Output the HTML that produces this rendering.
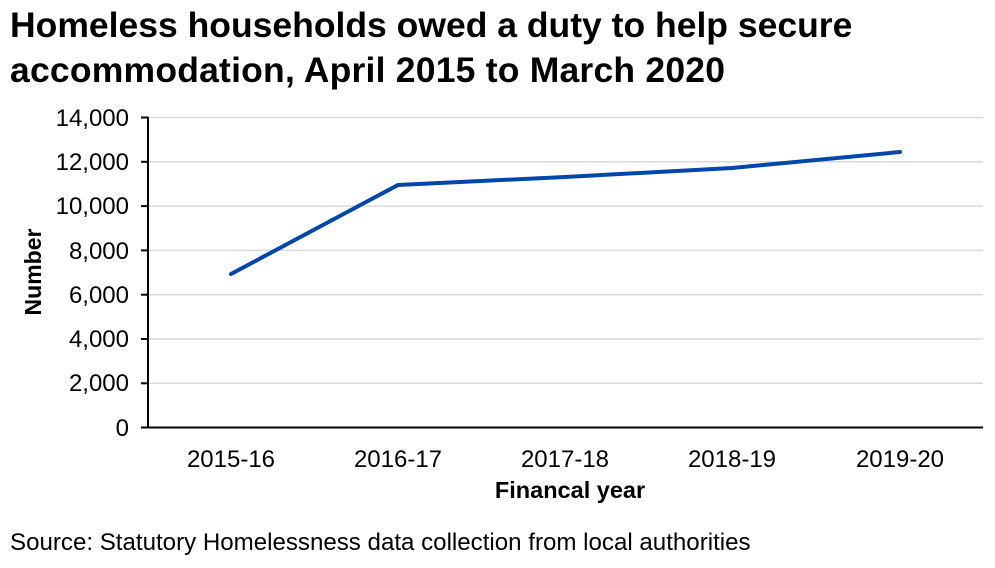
<!DOCTYPE html>
<html><head><meta charset="utf-8"><style>
body{margin:0;background:#fff;width:995px;height:563px;overflow:hidden;font-family:"Liberation Sans",Arial,sans-serif}
</style></head><body>
<svg width="995" height="563" xmlns="http://www.w3.org/2000/svg" font-family="Liberation Sans, Arial, sans-serif">
<text x="10" y="37" font-size="35.5" font-weight="bold" fill="#000">Homeless households owed a duty to help secure</text>
<text x="10" y="82" font-size="35.5" font-weight="bold" fill="#000" textLength="715">accommodation, April 2015 to March 2020</text>
<g stroke="#d9d9d9" stroke-width="1.5">
<line x1="148" x2="983" y1="117.5" y2="117.5"/>
<line x1="148" x2="983" y1="161.8" y2="161.8"/>
<line x1="148" x2="983" y1="206.1" y2="206.1"/>
<line x1="148" x2="983" y1="250.4" y2="250.4"/>
<line x1="148" x2="983" y1="294.7" y2="294.7"/>
<line x1="148" x2="983" y1="339" y2="339"/>
<line x1="148" x2="983" y1="383.3" y2="383.3"/>
</g>
<line x1="141" x2="983" y1="427.5" y2="427.5" stroke="#000" stroke-width="2"/>
<line x1="148" x2="148" y1="117" y2="428" stroke="#000" stroke-width="2"/>
<g stroke="#000" stroke-width="2">
<line x1="141" x2="148" y1="117.5" y2="117.5"/><line x1="141" x2="148" y1="161.8" y2="161.8"/>
<line x1="141" x2="148" y1="206.1" y2="206.1"/><line x1="141" x2="148" y1="250.4" y2="250.4"/>
<line x1="141" x2="148" y1="294.7" y2="294.7"/><line x1="141" x2="148" y1="339" y2="339"/>
<line x1="141" x2="148" y1="383.3" y2="383.3"/>
</g>
<g font-size="24" text-anchor="end" fill="#000">
<text x="129" y="126">14,000</text><text x="129" y="170">12,000</text><text x="129" y="214">10,000</text>
<text x="129" y="259">8,000</text><text x="129" y="303">6,000</text><text x="129" y="347">4,000</text>
<text x="129" y="391">2,000</text><text x="129" y="436">0</text>
</g>
<g font-size="24" text-anchor="middle" fill="#000">
<text x="231" y="467">2015-16</text><text x="398" y="467">2016-17</text><text x="565" y="467">2017-18</text>
<text x="732" y="467">2018-19</text><text x="900" y="467">2019-20</text>
</g>
<text x="570" y="498" font-size="23.5" font-weight="bold" text-anchor="middle">Financal year</text>
<text transform="translate(41,272) rotate(-90)" font-size="23" font-weight="bold" text-anchor="middle">Number</text>
<polyline points="231,274 398,185 565,177 732,168 900,152" fill="none" stroke="#0047ab" stroke-width="4" stroke-linejoin="round" stroke-linecap="round"/>
<text x="10" y="550" font-size="24.1" fill="#000">Source: Statutory Homelessness data collection from local authorities</text>
</svg>
</body></html>
